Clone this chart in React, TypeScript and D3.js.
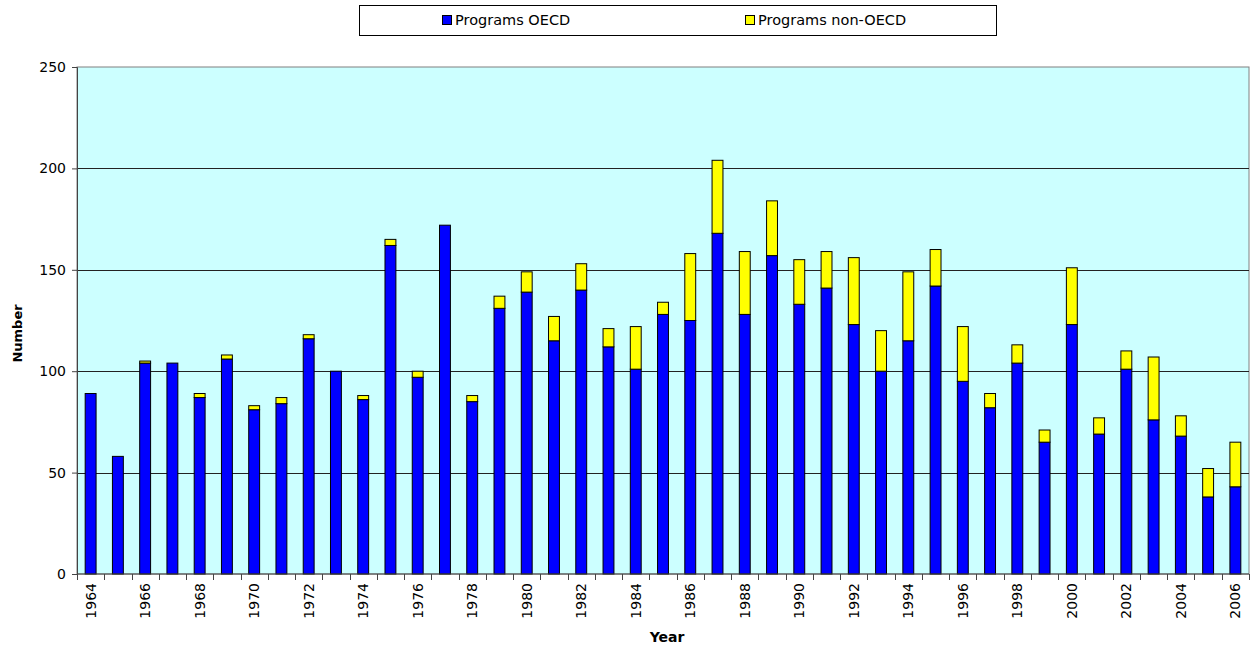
import React, { useEffect, useRef } from "react";
import * as d3 from "d3";

const years = [
  "1964", "1965", "1966", "1967", "1968", "1969", "1970", "1971", "1972", "1973",
  "1974", "1975", "1976", "1977", "1978", "1979", "1980", "1981", "1982", "1983",
  "1984", "1985", "1986", "1987", "1988", "1989", "1990", "1991", "1992", "1993",
  "1994", "1995", "1996", "1997", "1998", "1999", "2000", "2001", "2002", "2003",
  "2004", "2005", "2006",
];
const programsOecd = [
  89, 58, 104, 104, 87, 106, 81, 84, 116, 100, 86, 162, 97, 172, 85,
  131, 139, 115, 140, 112, 101, 128, 125, 168, 128, 157, 133, 141, 123,
  100, 115, 142, 95, 82, 104, 65, 123, 69, 101, 76, 68, 38, 43,
];
const programsNonOecd = [
  0, 0, 1, 0, 2, 2, 2, 3, 2, 0, 2, 3, 3, 0, 3,
  6, 10, 12, 13, 9, 21, 6, 33, 36, 31, 27, 22, 18, 33,
  20, 34, 18, 27, 7, 9, 6, 28, 8, 9, 31, 10, 14, 22,
];
const seriesNames = ["Programs OECD", "Programs non-OECD"];
const seriesColors = ["#0000ff", "#ffff00"];
const yTicks = [0, 50, 100, 150, 200, 250];

const width = 1252;
const height = 653;
const font = "'DejaVu Sans', Arial, sans-serif";

const App = () => {
  const ref = useRef<HTMLDivElement>(null);

  useEffect(() => {
    document.body.style.margin = "0";
    d3.select(ref.current).selectAll("svg").remove();
    const svg = d3
      .select(ref.current)
      .append("svg")
      .attr("width", width)
      .attr("height", height)
      .style("display", "block")
      .style("font-family", font);

    const margin = { top: 67, right: 3, bottom: 79, left: 77 };
    const innerWidth = width - margin.left - margin.right;
    const innerHeight = height - margin.top - margin.bottom;

    const x = d3.scaleBand().domain(years).range([0, innerWidth]).paddingInner(0.6).paddingOuter(0.3);
    const y = d3.scaleLinear().domain([0, 250]).range([innerHeight, 0]);

    const g = svg.append("g").attr("transform", `translate(${margin.left},${margin.top})`);

    // plot background
    g.append("rect")
      .attr("width", innerWidth)
      .attr("height", innerHeight)
      .attr("fill", "#ccffff")
      .attr("stroke", "#808080");

    // gridlines
    g.selectAll(".grid")
      .data(yTicks.filter((t) => t > 0 && t < 250))
      .enter()
      .append("line")
      .attr("x1", 0)
      .attr("x2", innerWidth)
      .attr("y1", (d) => Math.round(y(d)) + 0.5)
      .attr("y2", (d) => Math.round(y(d)) + 0.5)
      .attr("stroke", "#222");

    // stacked bars
    const rows = years.map((yr, i) => ({ year: yr, oecd: programsOecd[i], non: programsNonOecd[i] }));
    const bw = x.bandwidth();
    rows.forEach((d) => {
      const x0 = x(d.year)!;
      g.append("rect")
        .attr("x", x0)
        .attr("y", y(d.oecd))
        .attr("width", bw)
        .attr("height", y(0) - y(d.oecd))
        .attr("fill", seriesColors[0])
        .attr("stroke", "#000")
        .attr("stroke-width", 1);
      if (d.non > 0) {
        g.append("rect")
          .attr("x", x0)
          .attr("y", y(d.oecd + d.non))
          .attr("width", bw)
          .attr("height", y(d.oecd) - y(d.oecd + d.non))
          .attr("fill", seriesColors[1])
          .attr("stroke", "#000")
          .attr("stroke-width", 1);
      }
    });

    // y axis
    const yAxis = g
      .append("g")
      .call(d3.axisLeft(y).tickValues(yTicks).tickSize(5).tickPadding(6))
      .call((a) => a.select(".domain").attr("stroke", "#444"));
    yAxis.selectAll("text").attr("font-size", 14).attr("fill", "#000").attr("font-family", font);
    yAxis.selectAll("line").attr("stroke", "#444");

    // x axis
    const xg = g.append("g").attr("transform", `translate(0,${innerHeight})`);
    xg.append("line").attr("x1", 0).attr("x2", innerWidth).attr("stroke", "#444");
    const step = x.step();
    const bounds = d3.range(years.length + 1).map((i) => x(years[0])! - x.bandwidth() * 0 - (step - bw) / 2 + i * step);
    xg.selectAll(".xt")
      .data(bounds)
      .enter()
      .append("line")
      .attr("x1", (d) => Math.round(d) + 0.5)
      .attr("x2", (d) => Math.round(d) + 0.5)
      .attr("y1", 0)
      .attr("y2", 6)
      .attr("stroke", "#444");
    xg.selectAll(".xl")
      .data(years.filter((_, i) => i % 2 === 0))
      .enter()
      .append("text")
      .attr("transform", (d) => `translate(${x(d)! + bw / 2},9) rotate(-90)`)
      .attr("text-anchor", "end")
      .attr("dy", "0.35em")
      .attr("font-size", 14)
      .text((d) => d);

    // axis titles
    svg.append("text")
      .attr("x", margin.left + innerWidth / 2 + 4)
      .attr("y", 642)
      .attr("text-anchor", "middle")
      .attr("font-size", 14)
      .attr("font-weight", "bold")
      .text("Year");
    svg.append("text")
      .attr("transform", `translate(22,${margin.top + innerHeight / 2 + 13}) rotate(-90)`)
      .attr("text-anchor", "middle")
      .attr("font-size", 13)
      .attr("font-weight", "bold")
      .text("Number");

    // legend
    const lg = svg.append("g");
    lg.append("rect")
      .attr("x", 359.5)
      .attr("y", 5.5)
      .attr("width", 637)
      .attr("height", 30)
      .attr("fill", "#fff")
      .attr("stroke", "#000");
    const legendX = [442, 745];
    seriesNames.forEach((name, i) => {
      lg.append("rect")
        .attr("x", legendX[i] + 0.5)
        .attr("y", 15.5)
        .attr("width", 9)
        .attr("height", 9)
        .attr("fill", seriesColors[i])
        .attr("stroke", "#000");
      lg.append("text")
        .attr("x", legendX[i] + 13)
        .attr("y", 25)
        .attr("font-size", 14.5)
        .text(name);
    });
  }, []);

  return <div ref={ref}></div>;
};

export default App;
